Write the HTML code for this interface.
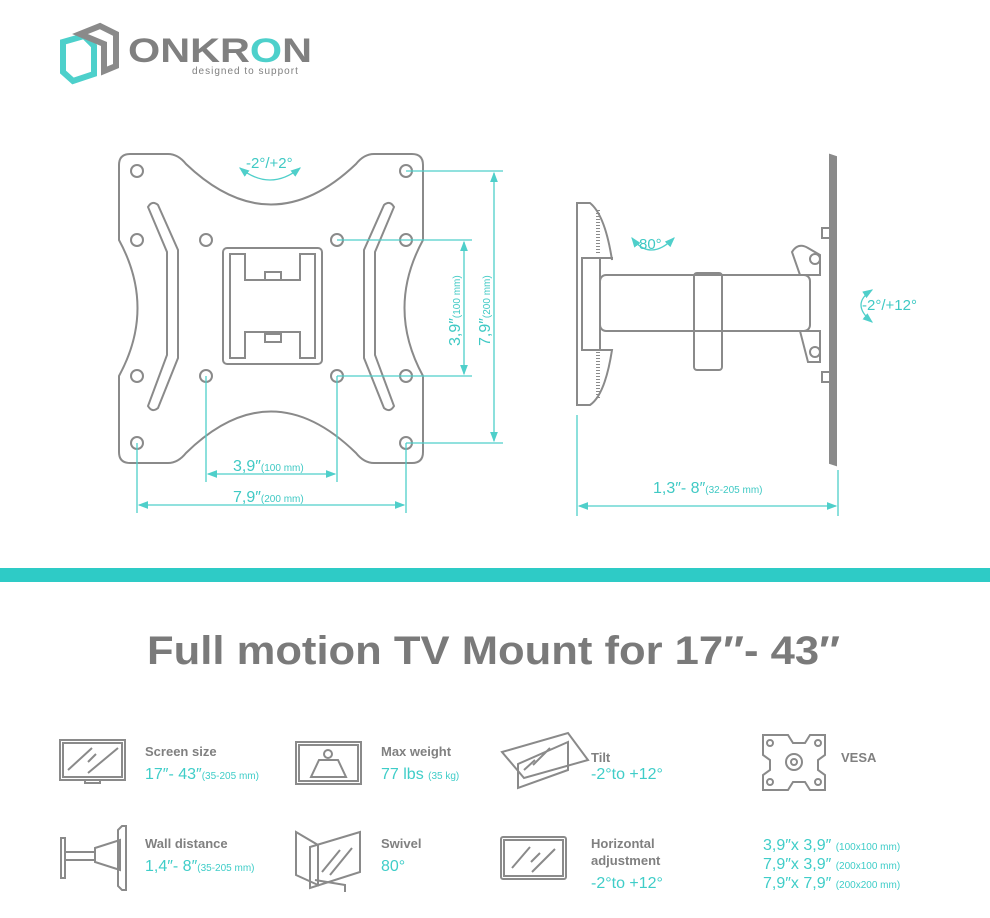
<!DOCTYPE html>
<html><head><meta charset="utf-8"><style>
html,body{margin:0;padding:0;background:#fff;}
body{width:990px;height:918px;overflow:hidden;position:relative;font-family:"Liberation Sans",sans-serif;}
svg{position:absolute;left:0;top:0;}
.g{fill:none;stroke:#8a8a8a;stroke-width:2;}
.t{fill:none;stroke:#4fcfca;stroke-width:1.3;}
.tt{fill:#3fc9c4;font-family:"Liberation Sans",sans-serif;}
.lb{fill:#808080;font-weight:bold;font-size:13px;}
.v{fill:#3fcdc8;font-size:16px;}
.s{font-size:10px;}
</style></head><body>
<svg width="990" height="918" viewBox="0 0 990 918">
<defs>
<marker id="a" markerWidth="8" markerHeight="8" refX="7" refY="4" orient="auto-start-reverse"><path d="M0,1 L8,4 L0,7z" fill="#4fcfca"/></marker>
</defs>
<path d="M63,42 L84,36 L94,46 L94,74 L73,81 L63,72Z" fill="none" stroke="#4dd0cb" stroke-width="6"/>
<path d="M80,34 L100,26 L116,34 L116,66 L104,71 L104,44 Z" fill="none" stroke="#8a8a8a" stroke-width="6"/>
<text x="128" y="62" font-size="34" font-weight="bold" fill="#808080" textLength="184" lengthAdjust="spacingAndGlyphs">ONKR<tspan fill="#4dd0cb">O</tspan>N</text>
<text x="192" y="74" font-size="10" fill="#808080" letter-spacing="1">designed to support</text>

<path class="g" d="M130,154 L168,154 Q178,154 186,164 Q271,245 356,164 Q364,154 374,154 L412,154 Q423,154 423,165 L423,240 Q386,308 423,376 L423,452 Q423,463 412,463 L374,463 Q364,463 356,453 Q271,370 186,453 Q178,463 168,463 L130,463 Q119,463 119,452 L119,376 Q156,308 119,240 L119,165 Q119,154 130,154Z"/>
<g class="g" stroke-width="1.6">
<circle cx="137" cy="171" r="6"/><circle cx="406" cy="171" r="6"/><circle cx="137" cy="443" r="6"/><circle cx="406" cy="443" r="6"/>
<circle cx="137" cy="240" r="6"/><circle cx="406" cy="240" r="6"/><circle cx="137" cy="376" r="6"/><circle cx="406" cy="376" r="6"/>
<circle cx="206" cy="240" r="6"/><circle cx="337" cy="240" r="6"/><circle cx="206" cy="376" r="6"/><circle cx="337" cy="376" r="6"/>
<path d="M148,207 Q152,200 158,205 L178,250 L178,358 L158,408 Q152,413 148,406 L167,355 L167,252Z"/>
<path d="M394,207 Q390,200 384,205 L364,250 L364,358 L384,408 Q390,413 394,406 L375,355 L375,252Z"/>
<rect x="223" y="248" width="99" height="116" rx="4"/>
<path d="M230,254 L245,254 L245,280 L300,280 L300,254 L315,254 L315,358 L300,358 L300,332 L245,332 L245,358 L230,358Z"/>
<rect x="265" y="272" width="16" height="8"/><rect x="265" y="334" width="16" height="8"/>
</g>
<path class="t" d="M240,168 Q270,192 300,168" marker-start="url(#a)" marker-end="url(#a)"/>
<text class="tt" x="246" y="168" font-size="15">-2°/+2°</text>
<g class="t">
<line x1="406" y1="171" x2="503" y2="171"/><line x1="406" y1="443" x2="503" y2="443"/>
<line x1="337" y1="240" x2="472" y2="240"/><line x1="337" y1="376" x2="472" y2="376"/>
<line x1="494" y1="173" x2="494" y2="441" marker-start="url(#a)" marker-end="url(#a)"/>
<line x1="464" y1="242" x2="464" y2="374" marker-start="url(#a)" marker-end="url(#a)"/>
<line x1="206" y1="376" x2="206" y2="482"/><line x1="337" y1="376" x2="337" y2="482"/>
<line x1="137" y1="443" x2="137" y2="513"/><line x1="406" y1="443" x2="406" y2="513"/>
<line x1="208" y1="474" x2="335" y2="474" marker-start="url(#a)" marker-end="url(#a)"/>
<line x1="139" y1="505" x2="404" y2="505" marker-start="url(#a)" marker-end="url(#a)"/>
</g>
<text class="tt" x="233" y="471" font-size="16">3,9″<tspan font-size="10">(100 mm)</tspan></text>
<text class="tt" x="233" y="502" font-size="16">7,9″<tspan font-size="10">(200 mm)</tspan></text>
<text class="tt" font-size="16" transform="translate(460,346) rotate(-90)">3,9″<tspan font-size="10">(100 mm)</tspan></text>
<text class="tt" font-size="16" transform="translate(490,346) rotate(-90)">7,9″<tspan font-size="10">(200 mm)</tspan></text>

<g class="g" stroke-width="1.8">
<path d="M577,203 L590,203 Q605,215 612,260 L612,258 L582,258 L582,350 L612,350 Q605,395 590,405 L577,405Z"/>
<line x1="600" y1="258" x2="600" y2="350"/>
<path d="M598,210 L598,255 M598,352 L598,400" stroke-width="4" stroke-dasharray="1 2"/>
<rect x="600" y="275" width="210" height="56" rx="6"/>
<rect x="694" y="273" width="28" height="97" rx="3"/>
<path d="M792,252 Q798,242 808,248 L820,255 L820,275 L800,275 Z"/>
<circle cx="815" cy="259" r="5"/><circle cx="815" cy="352" r="5"/>
<path d="M800,331 L820,331 L820,362 L808,362 Z"/>
<rect x="822" y="228" width="8" height="10"/><rect x="822" y="372" width="8" height="10"/>
<path d="M830,155 L836,157 L836,465 L830,463Z" fill="#8a8a8a"/>
</g>
<path class="t" d="M632,238 Q650,262 674,238" marker-start="url(#a)" marker-end="url(#a)"/>
<text class="tt" x="639" y="249" font-size="15">80°</text>
<path class="t" d="M872,290 Q850,304 872,322" marker-start="url(#a)" marker-end="url(#a)"/>
<text class="tt" x="862" y="310" font-size="15">-2°/+12°</text>
<g class="t"><line x1="577" y1="415" x2="577" y2="516"/><line x1="838" y1="470" x2="838" y2="516"/>
<line x1="579" y1="506" x2="836" y2="506" marker-start="url(#a)" marker-end="url(#a)"/></g>
<text class="tt" x="653" y="493" font-size="16">1,3″- 8″<tspan font-size="10">(32-205 mm)</tspan></text>

<rect x="0" y="568" width="990" height="14" fill="#2ecbc6"/>
<text x="147" y="664" font-size="40" font-weight="bold" fill="#7a7a7a" textLength="693" lengthAdjust="spacingAndGlyphs">Full motion TV Mount for 17″- 43″</text>

<g class="g" stroke-width="1.5">
<rect x="60" y="740" width="65" height="40"/><rect x="63" y="743" width="59" height="34"/>
<rect x="85" y="780" width="15" height="3"/>
<path d="M68,770 L92,748 M88,762 L96,754 M88,773 L118,748" />
<rect x="296" y="742" width="65" height="42"/><rect x="299" y="745" width="59" height="36"/>
<path d="M311,777 L346,777 L338,760 L319,760Z"/><circle cx="328" cy="754" r="4"/>
<path d="M502,752 L568,733 L588,760 L524,778Z"/><path d="M518,764 L568,742 L568,770 L518,788Z"/>
<path d="M524,770 L535,760 M533,765 L550,748"/>
<rect x="61" y="838" width="4" height="40"/><rect x="65" y="852" width="30" height="8"/>
<path d="M95,848 L120,840 L120,870 L95,862Z"/><path d="M118,830 L122,826 L126,826 L126,890 L122,890 L118,886Z"/>
<path d="M296,832 L318,845 L318,885 L296,875Z"/><path d="M310,847 L360,832 L360,872 L310,888Z"/>
<path d="M315,880 L345,885 L345,892"/><path d="M322,872 L340,850 M330,875 L352,848"/>
<rect x="501" y="837" width="65" height="42" rx="2"/><rect x="504" y="840" width="59" height="36"/>
<path d="M512,868 L530,847 M531,862 L540,853 M532,872 L555,849"/>
<path d="M763,735 L788,735 L793,743 L805,743 L810,735 L825,735 L825,755 L818,760 L818,770 L825,775 L825,790 L810,790 L805,782 L793,782 L788,790 L763,790 L763,775 L770,770 L770,760 L763,755Z"/>
<circle cx="794" cy="762" r="8"/><circle cx="794" cy="762" r="3"/>
<circle cx="770" cy="743" r="3"/><circle cx="818" cy="743" r="3"/><circle cx="770" cy="782" r="3"/><circle cx="818" cy="782" r="3"/>
</g>
<text class="lb" x="145" y="756">Screen size</text>
<text class="v" x="145" y="779">17″- 43″<tspan class="s">(35-205 mm)</tspan></text>
<text class="lb" x="381" y="756">Max weight</text>
<text class="v" x="381" y="779">77 lbs <tspan class="s">(35 kg)</tspan></text>
<text class="lb" x="591" y="762">Tilt</text>
<text class="v" x="591" y="779">-2°to +12°</text>
<text class="lb" x="841" y="762">VESA</text>
<text class="lb" x="145" y="848">Wall distance</text>
<text class="v" x="145" y="871">1,4″- 8″<tspan class="s">(35-205 mm)</tspan></text>
<text class="lb" x="381" y="848">Swivel</text>
<text class="v" x="381" y="871">80°</text>
<text class="lb" x="591" y="848">Horizontal</text>
<text class="lb" x="591" y="865">adjustment</text>
<text class="v" x="591" y="888">-2°to +12°</text>
<text class="v" x="763" y="850">3,9″x 3,9″ <tspan class="s">(100x100 mm)</tspan></text>
<text class="v" x="763" y="869">7,9″x 3,9″ <tspan class="s">(200x100 mm)</tspan></text>
<text class="v" x="763" y="888">7,9″x 7,9″ <tspan class="s">(200x200 mm)</tspan></text>
</svg>
</body></html>
